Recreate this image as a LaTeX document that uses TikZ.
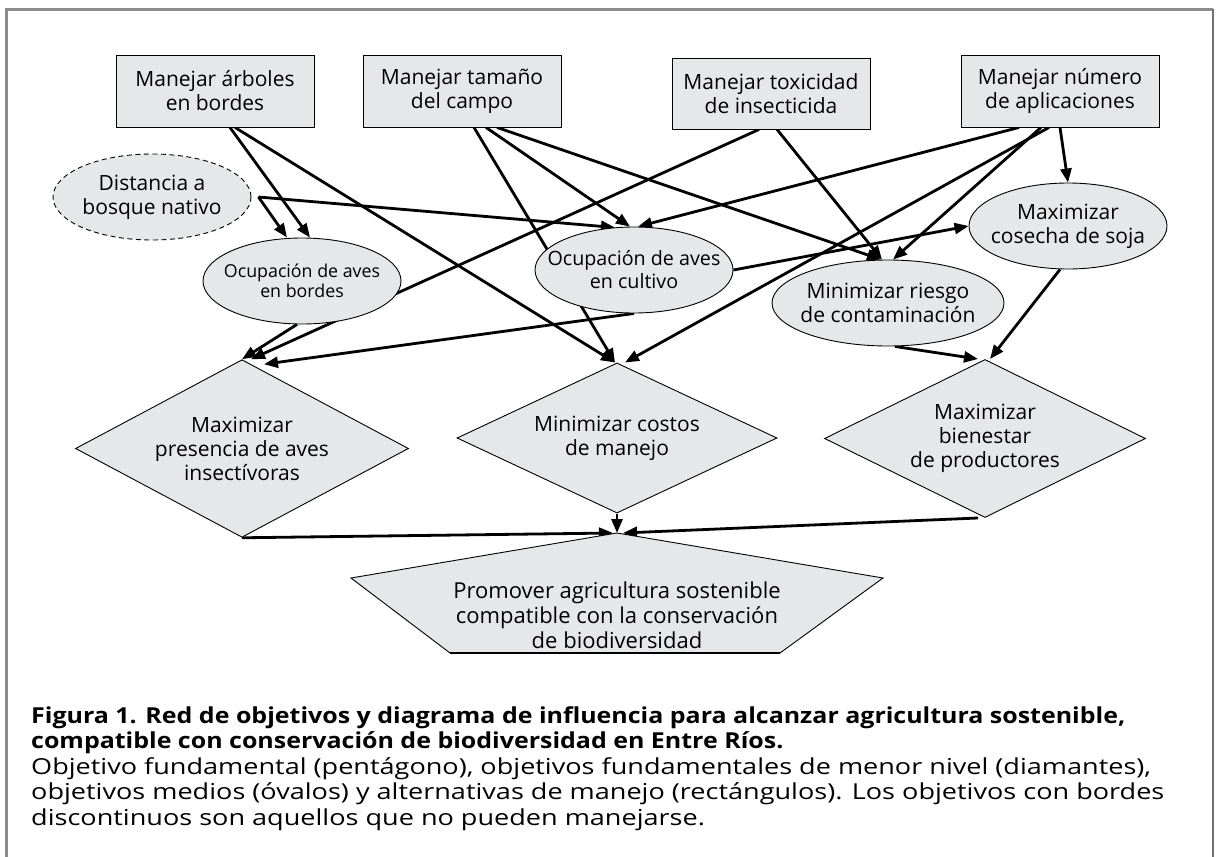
\documentclass[tikz,border=0pt]{standalone}
\usepackage{fontspec}
\setmainfont{Open Sans}
\newfontfamily\captionfont[FakeStretch=1.23,BoldFeatures={FakeStretch=1.135}]{Open Sans}
\usetikzlibrary{shapes.geometric,arrows.meta,backgrounds}
\definecolor{objfill}{HTML}{E6E7E8}
\definecolor{framegray}{HTML}{8C8C8C}

\begin{document}
\begin{tikzpicture}[x=1pt,y=-1pt,
	objshape/.style={draw=black,line width=0.9pt,fill=objfill},
	base/.style={objshape,align=center,font=\fontsize{21}{24}\selectfont},
	alternativa/.style={base,rectangle,inner sep=0pt,minimum width=198pt,minimum height=72pt},
	medio/.style={base,ellipse,inner sep=-20pt,minimum width=198pt,minimum height=86pt},
	fundamental/.style={base,diamond,inner sep=-15pt},
	infl/.style={line width=2.8pt,-{Triangle[length=14pt,width=11pt]}}]
	\useasboundingbox (0,0) rectangle (1217,856);
	% Frame
	\draw[framegray,line width=3pt] (6.5,870) |- (1213,9.5);
	\draw[black!55,line width=1.5pt] (1213,9.5) -- (1213,870);
	% Management alternatives
	\node[alternativa] (arbol) at (215,91) {Manejar árboles\\en bordes};
	\node[alternativa] (tamano) at (462,91) {Manejar tamaño\\del campo};
	\node[alternativa,minimum height=71pt] (toxic) at (771,93.5) {Manejar toxicidad\\de insecticida};
	\node[alternativa] (aplic) at (1060,91) {Manejar número\\de aplicaciones};
	% Means objectives
	\node[medio,dash pattern=on 5pt off 3.5pt] (dist) at (152,197) {Distancia a\\bosque nativo};
	\node[medio,font=\fontsize{17.8}{20.5}\selectfont] (ocbord) at (302,281) {Ocupación de aves\\en bordes};
	\node[medio,font=\fontsize{19.7}{23}\selectfont] (occult) at (634,270) {Ocupación de aves\\en cultivo};
	\node[medio] (soja) at (1068,226) {Maximizar\\cosecha de soja};
	\node[medio,minimum width=232pt] (riesgo) at (888,303) {Minimizar riesgo\\de contaminación};
	% Lower level fundamental objectives
	\node[fundamental,minimum width=333pt,minimum height=137pt] (presencia) at (242,448.5) {Maximizar\\presencia de aves\\insectívoras};
	\node[fundamental,minimum width=320pt,minimum height=118pt] (costos) at (617,438) {Minimizar costos\\de manejo};
	\node[fundamental,minimum width=321pt,minimum height=119pt] (bienestar) at (985,438.5) {Maximizar\\bienestar\\de productores};
	% Fundamental objective
	\coordinate (pentop) at (617,533);
	\draw[objshape] (pentop) -- (883,578) -- (780,653) -- (450,653) -- (351,578) -- cycle;
	\draw[line width=1.8pt] (450,653) -- (780,653);
	\node[align=center,font=\fontsize{22}{25}\selectfont] (prom) at (617,615) {Promover agricultura sostenible\\compatible con la conservación\\de biodiversidad};
	% Influences
	\begin{scope}[on background layer]
		\coordinate (distout) at ([xshift=7pt]dist.east);
		\draw[infl] (distout) -- ([xshift=-15pt]ocbord.north);
		\draw[infl] (distout) -- ([xshift=-19pt,yshift=-1pt]occult.north);
		\draw[infl] ([xshift=15pt]arbol.south) -- ([xshift=8pt]ocbord.north);
		\draw[infl] ([xshift=20pt]arbol.south) -- ([xshift=-2pt]costos.north);
		\draw[infl] ([xshift=24pt]tamano.south) -- ([xshift=-4pt]occult.north);
		\draw[infl] ([xshift=12pt]tamano.south) -- ([xshift=-2pt]costos.north);
		\draw[infl] ([xshift=35pt]tamano.south) -- ([xshift=-7pt]riesgo.north);
		\draw[infl] ([xshift=-12pt]toxic.south) -- ([xshift=9pt]presencia.north);
		\draw[infl] ([xshift=6pt]toxic.south) -- ([xshift=-6pt]riesgo.north);
		\draw[infl] ([xshift=-41pt]aplic.south) -- ([xshift=4pt]occult.north);
		\draw[infl] ([xshift=-19pt]aplic.south) -- ([xshift=5pt]riesgo.north);
		\draw[infl] ([xshift=-11pt]aplic.south) -- ([xshift=8pt]costos.north);
		\draw[infl] (aplic.south) -- (soja.north);
		\draw[infl] (occult.east) -- (soja.west);
		\draw[infl] ([xshift=-5pt]ocbord.south) -- (presencia.north);
		\draw[infl] (occult.south) -- ([xshift=22pt,yshift=-5pt]presencia.north);
		\draw[infl] ([xshift=7pt]riesgo.south) -- ([xshift=-7pt]bienestar.north);
		\draw[infl] ([xshift=-8pt]soja.south) -- ([xshift=5pt]bienestar.north);
		\draw[infl] (presencia.south) -- ([xshift=-4pt]pentop);
		\draw[infl] (costos.south) -- (pentop);
		\draw[infl] ([xshift=-7pt]bienestar.south) -- ([xshift=6pt]pentop);
	\end{scope}
	% Caption
	\node[anchor=north west,inner sep=0pt,align=left,font=\captionfont\fontsize{22}{25.5}\selectfont] (leyenda) at (31,706) {\textbf{Figura 1. Red de objetivos y diagrama de influencia para alcanzar agricultura sostenible,}\\\textbf{compatible con conservación de biodiversidad en Entre Ríos.}\\Objetivo fundamental (pentágono), objetivos fundamentales de menor nivel (diamantes),\\objetivos medios (óvalos) y alternativas de manejo (rectángulos). Los objetivos con bordes\\discontinuos son aquellos que no pueden manejarse.};
\end{tikzpicture}
\end{document}
